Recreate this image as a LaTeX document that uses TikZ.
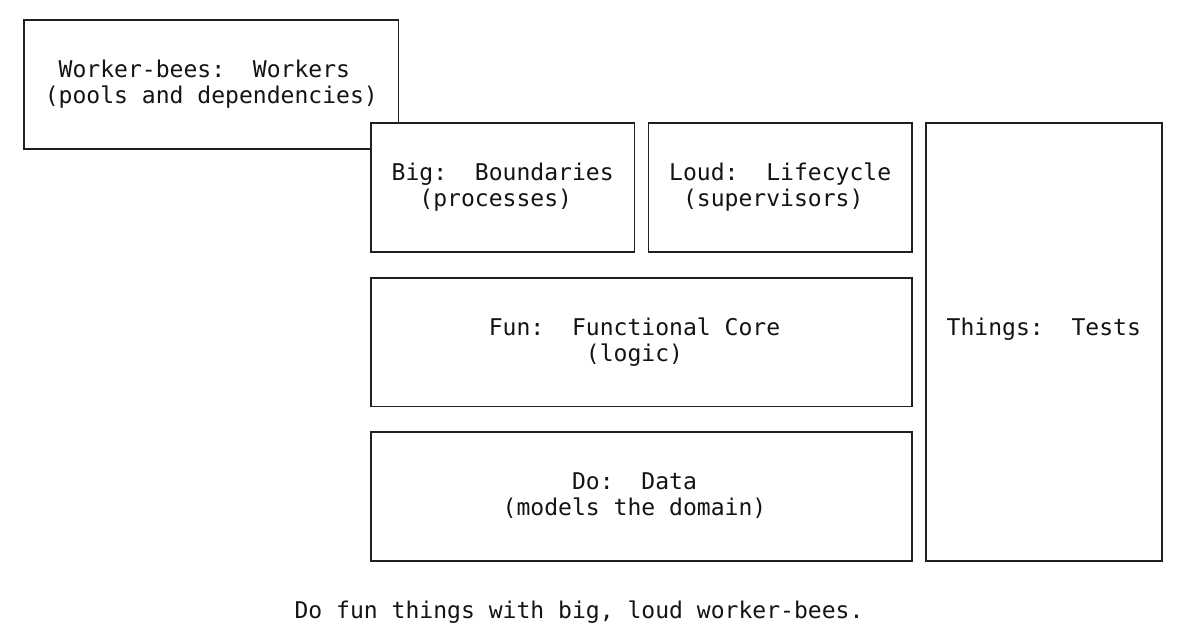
\documentclass[tikz,border=0pt]{standalone}
\usepackage{fontspec}
\newfontfamily\dmono{DejaVu Sans Mono}
\begin{document}
\begin{tikzpicture}[x=1pt,y=-1pt,
  boxline/.style={draw=black!88,line width=1.7pt,fill=white},
  txt/.style={anchor=base west,inner sep=0pt,outer sep=0pt,font=\dmono\fontsize{23.05}{25.77}\selectfont,text=black!92}]
\useasboundingbox (0,0) rectangle (1188,644);
% boxes
\draw[boxline] (24,20) rectangle (398.625,148.85);
\draw[boxline] (370.875,123.08) rectangle (634.5,251.93);
\draw[boxline] (648.375,123.08) rectangle (912,251.93);
\draw[boxline] (925.875,123.08) rectangle (1161.75,561.17);
\draw[boxline] (370.875,277.7) rectangle (912,406.55);
\draw[boxline] (370.875,432.32) rectangle (912,561.17);
% texts
\node[txt] (w1) at (58.6875,77.54) {Worker-bees:\ \ Workers};
\node[txt] (w2) at (44.8125,103.31) {(pools and dependencies)};
\node[txt] (b1) at (391.6875,180.62) {Big:\ \ Boundaries};
\node[txt] (b2) at (419.4375,206.39) {(processes)};
\node[txt] (l1) at (669.1875,180.62) {Loud:\ \ Lifecycle};
\node[txt] (l2) at (683.0625,206.39) {(supervisors)};
\node[txt] (t1) at (946.6875,335.24) {Things:\ \ Tests};
\node[txt] (f1) at (488.8125,335.24) {Fun:\ \ Functional Core};
\node[txt] (f2) at (585.9375,361.01) {(logic)};
\node[txt] (d1) at (572.0625,489.86) {Do:\ \ Data};
\node[txt] (d2) at (502.6875,515.63) {(models the domain)};
\node[txt] (cap) at (294.5625,618.71) {Do fun things with big, loud worker-bees.};
\end{tikzpicture}
\end{document}
